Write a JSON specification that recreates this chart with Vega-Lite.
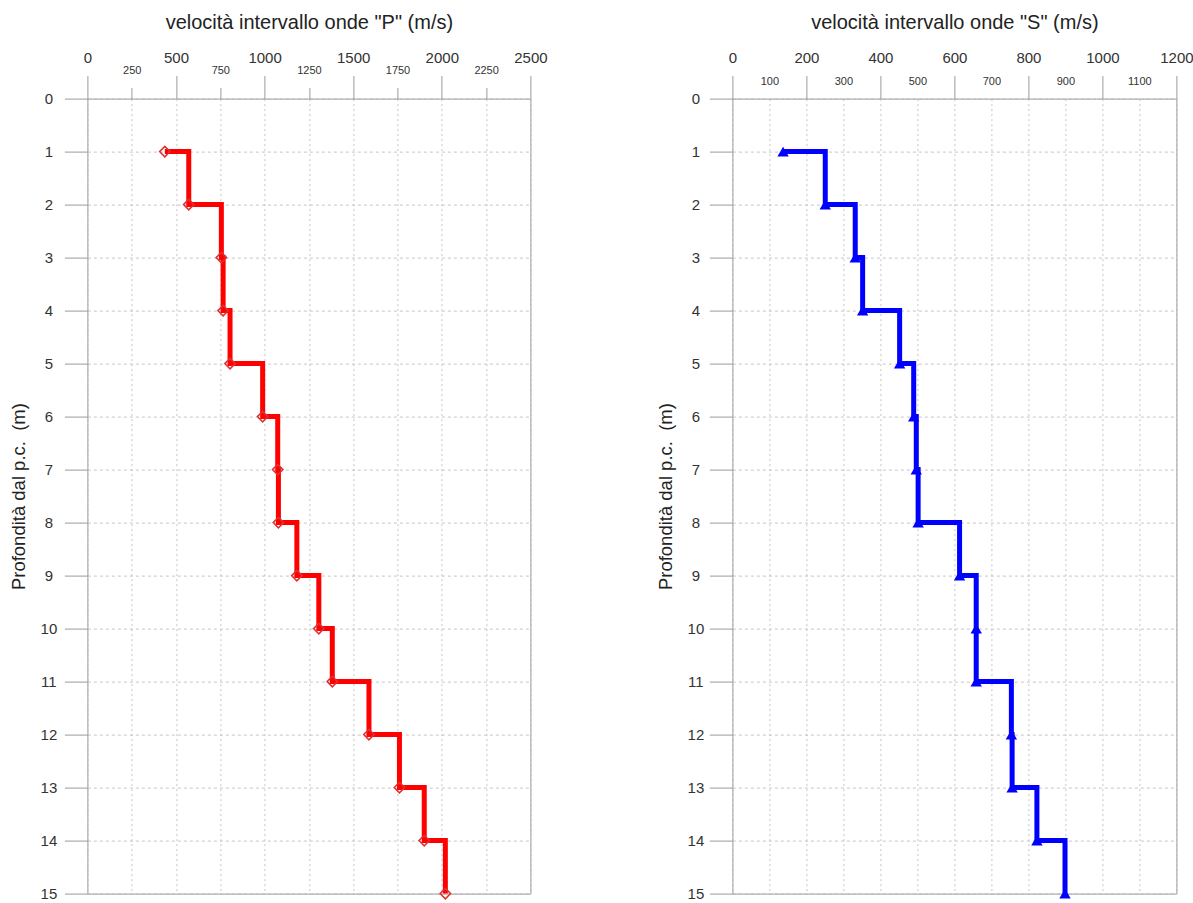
{
  "$schema": "https://vega.github.io/schema/vega-lite/v6.json",
  "padding": {"left": 8.4, "top": 11.6, "right": 0, "bottom": 0},
  "background": "white",
  "datasets": {
    "p": [
      {"depth": 1, "v": 437}, {"depth": 2, "v": 572}, {"depth": 3, "v": 756}, {"depth": 4, "v": 766},
      {"depth": 5, "v": 805}, {"depth": 6, "v": 989}, {"depth": 7, "v": 1074}, {"depth": 8, "v": 1078},
      {"depth": 9, "v": 1182}, {"depth": 10, "v": 1306}, {"depth": 11, "v": 1382}, {"depth": 12, "v": 1589},
      {"depth": 13, "v": 1761}, {"depth": 14, "v": 1901}, {"depth": 15, "v": 2020}
    ],
    "s": [
      {"depth": 1, "v": 137}, {"depth": 2, "v": 251}, {"depth": 3, "v": 332}, {"depth": 4, "v": 352},
      {"depth": 5, "v": 452}, {"depth": 6, "v": 490}, {"depth": 7, "v": 497}, {"depth": 8, "v": 502},
      {"depth": 9, "v": 614}, {"depth": 10, "v": 659}, {"depth": 11, "v": 659}, {"depth": 12, "v": 754},
      {"depth": 13, "v": 756}, {"depth": 14, "v": 823}, {"depth": 15, "v": 899}
    ]
  },
  "hconcat": [
    {
      "width": 443,
      "height": 795,
      "data": {"name": "p"},
      "resolve": {"axis": {"x": "independent"}},
      "layer": [
        {
          "mark": {"type": "line", "interpolate": "step-after", "color": "#ff0000", "strokeWidth": 5},
          "encoding": {
            "x": {
              "field": "v", "type": "quantitative",
              "scale": {"domain": [0, 2500], "nice": false, "zero": false},
              "axis": {
                "orient": "top", "values": [0, 500, 1000, 1500, 2000, 2500], "format": "d",
                "title": "velocità intervallo onde \"P\" (m/s)", "titleFontSize": 20,
                "tickSize": 23, "labelPadding": 10.5, "labelFontSize": 15, "labelFlush": false,
                "titlePadding": 17.9, "grid": true
              }
            },
            "y": {
              "field": "depth", "type": "quantitative",
              "scale": {"domain": [0, 15], "reverse": true, "nice": false, "zero": false},
              "axis": {
                "values": [0, 1, 2, 3, 4, 5, 6, 7, 8, 9, 10, 11, 12, 13, 14, 15], "format": "d",
                "title": "Profondità dal p.c. \u00a0(m)", "titleFontSize": 18.5,
                "tickSize": 23, "labelPadding": 16, "labelAlign": "center", "labelBaseline": "middle",
                "labelFontSize": 15, "titlePadding": 11.7, "grid": true, "gridDash": [3, 3]
              }
            },
            "order": {"field": "depth", "type": "quantitative"}
          }
        },
        {
          "mark": {"type": "point", "shape": "diamond", "filled": false, "stroke": "#e03030", "strokeWidth": 1.5, "size": 110, "opacity": 1},
          "encoding": {
            "x": {
              "field": "v", "type": "quantitative",
              "scale": {"domain": [0, 2500], "nice": false, "zero": false},
              "axis": {
                "orient": "top", "values": [250, 750, 1250, 1750, 2250], "format": "d", "title": null,
                "tickSize": 11, "labelPadding": 12.25, "labelFontSize": 11, "labelFlush": false, "grid": true
              }
            },
            "y": {"field": "depth", "type": "quantitative"}
          }
        }
      ]
    },
    {
      "width": 444,
      "height": 795,
      "data": {"name": "s"},
      "resolve": {"axis": {"x": "independent"}},
      "layer": [
        {
          "mark": {"type": "line", "interpolate": "step-after", "color": "#0000ff", "strokeWidth": 5},
          "encoding": {
            "x": {
              "field": "v", "type": "quantitative",
              "scale": {"domain": [0, 1200], "nice": false, "zero": false},
              "axis": {
                "orient": "top", "values": [0, 200, 400, 600, 800, 1000, 1200], "format": "d",
                "title": "velocità intervallo onde \"S\" (m/s)", "titleFontSize": 20,
                "tickSize": 23, "labelPadding": 10.5, "labelFontSize": 15, "labelFlush": false,
                "titlePadding": 17.9, "grid": true
              }
            },
            "y": {
              "field": "depth", "type": "quantitative",
              "scale": {"domain": [0, 15], "reverse": true, "nice": false, "zero": false},
              "axis": {
                "values": [0, 1, 2, 3, 4, 5, 6, 7, 8, 9, 10, 11, 12, 13, 14, 15], "format": "d",
                "title": "Profondità dal p.c. \u00a0(m)", "titleFontSize": 18.5,
                "tickSize": 23, "labelPadding": 14, "labelAlign": "center", "labelBaseline": "middle",
                "labelFontSize": 15, "titlePadding": 11.7, "grid": true, "gridDash": [3, 3]
              }
            },
            "order": {"field": "depth", "type": "quantitative"}
          }
        },
        {
          "mark": {"type": "point", "shape": "triangle-up", "filled": true, "color": "#0000ff", "size": 130, "opacity": 1},
          "encoding": {
            "x": {
              "field": "v", "type": "quantitative",
              "scale": {"domain": [0, 1200], "nice": false, "zero": false},
              "axis": {
                "orient": "top", "values": [100, 300, 500, 700, 900, 1100], "format": "d", "title": null,
                "ticks": false, "labelPadding": 11.75, "labelFontSize": 11, "labelFlush": false, "grid": true
              }
            },
            "y": {"field": "depth", "type": "quantitative"}
          }
        }
      ]
    }
  ],
  "spacing": 202,
  "bounds": "flush",
  "config": {
    "font": "Liberation Sans",
    "view": {"stroke": "#9a9a9a", "strokeWidth": 1},
    "axis": {
      "domain": false,
      "tickColor": "#9a9a9a",
      "tickWidth": 1,
      "gridColor": "#b8b8b8",
      "gridWidth": 0.8,
      "gridDash": [2, 3],
      "labelColor": "#333333",
      "labelFont": "Liberation Sans",
      "titleFont": "Liberation Sans",
      "titleFontWeight": "normal",
      "titleColor": "#222222",
      "labelOverlap": false
    }
  }
}
